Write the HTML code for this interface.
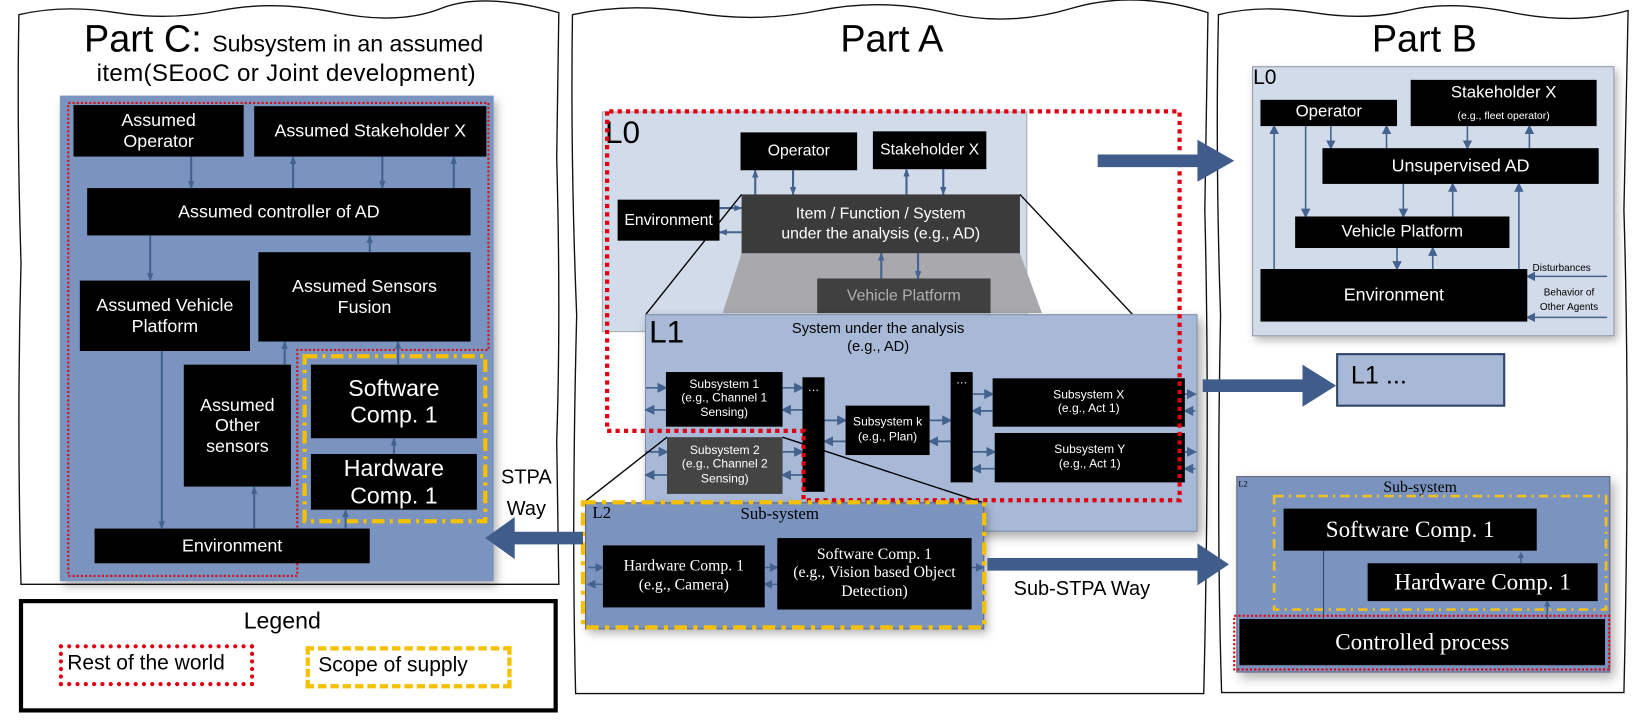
<!DOCTYPE html>
<html><head><meta charset="utf-8">
<style>
html,body{margin:0;padding:0;background:#fff;width:1647px;height:722px;overflow:hidden}
#c{position:absolute;left:0;top:0;width:1568px;height:687px;transform:scale(1.0504,1.0509);transform-origin:0 0;font-family:"Liberation Sans",sans-serif}
.a{position:absolute}
.b{position:absolute;background:#000;color:#fff;display:flex;align-items:center;justify-content:center;text-align:center;line-height:1.15;box-sizing:border-box}
.s{font-family:"Liberation Serif",serif}
.t{position:absolute;white-space:nowrap}
.n{font-family:"Liberation Sans Narrow","Liberation Sans",sans-serif}
</style></head><body><div id="c">
<svg class="a" style="left:0;top:0" width="1568" height="687">
<g fill="#fff" stroke="#111" stroke-width="1.3">
<path d="M18,14 Q60,4 110,12 T210,10 T320,12 T420,8 T532,12 L530,150 Q534,300 530,420 L532,556 L20,556 Q16,400 20,250 Q16,120 18,14Z"/>
<path d="M545,14 Q600,2 660,12 T780,10 T900,12 T1020,8 T1150,12 L1147,200 Q1152,400 1146,660 L548,660 Q544,500 549,300 Q543,150 545,14Z"/>
<path d="M1160,14 Q1200,4 1250,12 T1340,10 T1440,12 T1550,10 L1546,200 Q1552,400 1546,659 L1163,659 Q1158,500 1162,300 Q1157,150 1160,14Z"/>
</g>
</svg>
<!-- Part C -->
<div class="t n" style="left:80px;top:16px;font-size:36px">Part C: <span style="font-size:22px">Subsystem in an assumed</span></div>
<div class="t n" style="left:92px;top:56px;font-size:23px;letter-spacing:0.3px">item(SEooC or Joint development)</div>
<div class="a" style="left:57px;top:91px;width:413px;height:462px;background:#7a94bf;box-shadow:3px 5px 8px rgba(0,0,0,.3)"></div>
<svg class="a" style="left:0;top:0" width="1568" height="687">
<path d="M65,98 H465 V333 H283 V548 H65 Z" fill="none" stroke="#d0101a" stroke-width="2" stroke-dasharray="2 2"/>
<rect x="290" y="339" width="172" height="157" fill="none" stroke="#f5c000" stroke-width="4" stroke-dasharray="12 5 3 5"/>
</svg>
<div class="b" style="left:70px;top:100px;width:162px;height:49px;font-size:17px">Assumed<br>Operator</div>
<div class="b" style="left:242px;top:101px;width:221px;height:48px;font-size:17px">Assumed Stakeholder X</div>
<div class="b" style="left:83px;top:179px;width:365px;height:45px;font-size:17px">Assumed controller of AD</div>
<div class="b" style="left:76px;top:267px;width:162px;height:67px;font-size:17px">Assumed Vehicle<br>Platform</div>
<div class="b" style="left:246px;top:240px;width:202px;height:85px;font-size:17px">Assumed Sensors<br>Fusion</div>
<div class="b" style="left:175px;top:347px;width:102px;height:116px;font-size:17px">Assumed<br>Other<br>sensors</div>
<div class="b" style="left:296px;top:347px;width:158px;height:70px;font-size:22px">Software<br>Comp. 1</div>
<div class="b" style="left:296px;top:432px;width:158px;height:53px;font-size:22px">Hardware<br>Comp. 1</div>
<div class="b" style="left:90px;top:503px;width:262px;height:33px;font-size:17px">Environment</div>
<svg class="a" style="left:0;top:0" width="1568" height="687">
<defs><marker id="m" markerWidth="6" markerHeight="6" refX="5" refY="3" orient="auto" markerUnits="strokeWidth"><path d="M0,0 L6,3 L0,6Z" fill="#44628f"/></marker>
<marker id="m2" markerWidth="8" markerHeight="8" refX="7" refY="4" orient="auto" markerUnits="userSpaceOnUse"><path d="M0,1 L8,4 L0,7Z" fill="#44628f"/></marker></defs>
<g stroke="#44628f" stroke-width="2" fill="none" marker-end="url(#m2)">
<path d="M182,149 V179"/><path d="M279,179 V149"/><path d="M364,149 V179"/><path d="M432,179 V149"/>
<path d="M143,224 V267"/><path d="M352,240 V224"/><path d="M154,334 V503"/><path d="M271,347 V325"/>
<path d="M379,347 V325"/><path d="M375,432 V417"/><path d="M242,503 V463"/><path d="M329,503 V485"/>
</g>
</svg>
<!-- Legend -->
<div class="a" style="left:18px;top:570px;width:505px;height:100px;border:4px solid #000;background:#fff"></div>
<div class="t" style="left:232px;top:578px;font-size:22px">Legend</div>
<div class="a" style="left:56px;top:613px;width:186px;height:40px;border:4px dotted #e00010;box-sizing:border-box"></div>
<div class="t" style="left:64px;top:620px;font-size:20px">Rest of the world</div>
<div class="a" style="left:291px;top:615px;width:196px;height:40px;border:4px dashed #f5c000;box-sizing:border-box"></div>
<div class="t" style="left:303px;top:622px;font-size:20px">Scope of supply</div>
<div class="t" style="left:477px;top:440px;font-size:19px;line-height:30px;text-align:center">STPA<br>Way</div>
<!-- Part A -->
<div class="t n" style="left:800px;top:16px;font-size:36px">Part A</div>
<div class="a" style="left:573px;top:106px;width:403px;height:208px;background:#d1dbe9;border:1px solid #aab"></div>
<div class="t" style="left:576px;top:110px;font-size:30px">L0</div>
<svg class="a" style="left:0;top:0" width="1568" height="687">
<path d="M706,241 L971,241 L992,298 L688,298Z" fill="#a9a9ad"/>
<g stroke="#44628f" stroke-width="2" fill="none" marker-end="url(#m2)">
<path d="M719,185 V162"/><path d="M755,162 V185"/><path d="M863,185 V161"/><path d="M898,161 V185"/>
<path d="M685,198 H706"/><path d="M706,221 H685"/><path d="M839,265 V241"/><path d="M874,241 V265"/>
</g>
</svg>
<div class="b" style="left:705px;top:126px;width:111px;height:36px;font-size:15px">Operator</div>
<div class="b" style="left:831px;top:125px;width:108px;height:36px;font-size:15px">Stakeholder X</div>
<div class="b" style="left:588px;top:190px;width:97px;height:39px;font-size:15px">Environment</div>
<div class="b" style="left:706px;top:185px;width:265px;height:56px;font-size:15px;background:#3b3b3b;line-height:1.3">Item / Function / System<br>under the analysis (e.g., AD)</div>
<div class="b" style="left:778px;top:265px;width:165px;height:33px;font-size:15px;background:#404040;color:#b0b0b0">Vehicle Platform</div>
<svg class="a" style="left:0;top:0" width="1568" height="687">
<path d="M706,185 L615,299 M971,185 L1078,299" stroke="#000" stroke-width="1.3"/>
</svg>
<div class="a" style="left:614px;top:299px;width:524px;height:205px;background:#a7b9d6;border:1px solid #7f8fa8;box-shadow:4px 5px 10px rgba(0,0,0,.35)"></div>
<div class="t" style="left:618px;top:300px;font-size:30px">L1</div>
<div class="t" style="left:736px;top:304px;width:200px;text-align:center;font-size:14px;line-height:17px">System under the analysis<br>(e.g., AD)</div>
<svg class="a" style="left:0;top:0" width="1568" height="687">
<g stroke="#44628f" stroke-width="1.6" fill="none" marker-end="url(#m)">
<path d="M615,369 H634"/><path d="M634,390 H615"/><path d="M745,369 H764"/><path d="M764,390 H745"/>
<path d="M785,400 H805"/><path d="M805,420 H785"/><path d="M885,400 H905"/><path d="M905,420 H885"/>
<path d="M926,375 H945"/><path d="M945,391 H926"/><path d="M926,430 H947"/><path d="M947,446 H926"/>
<path d="M1128,375 H1138"/><path d="M1138,391 H1128"/><path d="M1128,430 H1138"/><path d="M1138,446 H1128"/>
<path d="M615,430 H635"/><path d="M635,452 H615"/><path d="M745,430 H764"/><path d="M764,452 H745"/>
</g>
</svg>
<div class="b" style="left:634px;top:354px;width:111px;height:52px;font-size:11.5px">Subsystem 1<br>(e.g., Channel 1<br>Sensing)</div>
<div class="b" style="left:764px;top:359px;width:21px;height:109px;font-size:11px;align-items:flex-start;padding-top:4px">…</div>
<div class="b" style="left:805px;top:386px;width:80px;height:47px;font-size:11.5px">Subsystem k<br>(e.g., Plan)</div>
<div class="b" style="left:905px;top:354px;width:21px;height:105px;font-size:11px;align-items:flex-start;padding-top:2px">…</div>
<div class="b" style="left:945px;top:360px;width:183px;height:46px;font-size:11.5px">Subsystem X<br>(e.g., Act 1)</div>
<div class="b" style="left:947px;top:412px;width:181px;height:47px;font-size:11.5px">Subsystem Y<br>(e.g., Act 1)</div>
<div class="b" style="left:635px;top:416px;width:110px;height:54px;font-size:11.5px;background:#444">Subsystem 2<br>(e.g., Channel 2<br>Sensing)</div>
<svg class="a" style="left:0;top:0" width="1568" height="687">
<path d="M578,106 V410 H765 V476 H1123 V106 H976" fill="none" stroke="#e00010" stroke-width="4" stroke-dasharray="4 4"/>
<path d="M976,106 H578" fill="none" stroke="#e00010" stroke-width="4" stroke-dasharray="4 4"/>
<path d="M635,416 L556,478 M745,416 L935,478" stroke="#000" stroke-width="1.3"/>
</svg>
<div class="a" style="left:557px;top:478px;width:378px;height:119px;background:#7b93bf;border:1px solid #667;box-shadow:3px 4px 8px rgba(0,0,0,.3)"></div>
<svg class="a" style="left:0;top:0" width="1568" height="687">
<rect x="555" y="478" width="382" height="119" fill="none" stroke="#f5c000" stroke-width="4" stroke-dasharray="12 6 4 6"/>
<g stroke="#44628f" stroke-width="1.4" fill="none" marker-end="url(#m)">
<path d="M560,540 H574"/><path d="M574,556 H560"/><path d="M728,540 H740"/><path d="M740,556 H728"/><path d="M925,540 H936"/>
</g>
</svg>
<div class="t s" style="left:564px;top:480px;font-size:16px">L2</div>
<div class="t s" style="left:705px;top:481px;font-size:16px">Sub-system</div>
<div class="b s" style="left:574px;top:519px;width:154px;height:59px;font-size:15px">Hardware Comp. 1<br>(e.g., Camera)</div>
<div class="b s" style="left:740px;top:512px;width:185px;height:68px;font-size:15px">Software Comp. 1<br>(e.g., Vision based Object<br>Detection)</div>
<div class="t" style="left:965px;top:550px;font-size:19px">Sub-STPA Way</div>
<!-- Part B -->
<div class="t n" style="left:1306px;top:16px;font-size:36px">Part B</div>
<div class="a" style="left:1192px;top:63px;width:343px;height:255px;background:#d1dbe9;border:1px solid #99a;box-shadow:3px 4px 8px rgba(0,0,0,.3)"></div>
<div class="t" style="left:1193px;top:63px;font-size:20px">L0</div>
<svg class="a" style="left:0;top:0" width="1568" height="687">
<g stroke="#44628f" stroke-width="1.5" fill="none" marker-end="url(#m)">
<path d="M1213,256 V120"/><path d="M1243,120 V206"/><path d="M1267,120 V141"/><path d="M1320,141 V120"/>
<path d="M1397,120 V141"/><path d="M1456,141 V120"/><path d="M1336,175 V206"/><path d="M1383,206 V175"/>
<path d="M1330,236 V256"/><path d="M1364,256 V236"/><path d="M1446,256 V175"/>
<path d="M1530,263 H1454"/><path d="M1530,302 H1454"/>
</g>
</svg>
<div class="b" style="left:1200px;top:95px;width:130px;height:25px;font-size:16px">Operator</div>
<div class="b" style="left:1343px;top:76px;width:177px;height:44px;font-size:16px;line-height:1.25;display:block;padding-top:3px;white-space:nowrap">Stakeholder X<br><span style="font-size:10px">(e.g., fleet operator)</span></div>
<div class="b" style="left:1259px;top:141px;width:263px;height:34px;font-size:17px">Unsupervised AD</div>
<div class="b" style="left:1233px;top:206px;width:204px;height:30px;font-size:16px">Vehicle Platform</div>
<div class="b" style="left:1200px;top:256px;width:254px;height:50px;font-size:17px">Environment</div>
<div class="t" style="left:1459px;top:250px;font-size:9.5px">Disturbances</div>
<div class="t" style="left:1466px;top:272px;font-size:9.5px;line-height:14px;text-align:center">Behavior of<br>Other Agents</div>
<div class="a" style="left:1272px;top:336px;width:161px;height:51px;background:#a7b9d6;border:2px solid #2f456b;box-sizing:border-box"></div>
<div class="t" style="left:1286px;top:344px;font-size:24px">L1 ...</div>
<div class="a" style="left:1177px;top:453px;width:354px;height:185px;background:#7b93bf;border:1px solid #667;box-shadow:4px 5px 10px rgba(0,0,0,.3)"></div>
<div class="t s" style="left:1179px;top:456px;font-size:8px">L2</div>
<div class="t s" style="left:1317px;top:456px;font-size:15px">Sub-system</div>
<svg class="a" style="left:0;top:0" width="1568" height="687">
<rect x="1213" y="472" width="316" height="108" fill="none" stroke="#f0c020" stroke-width="2.5" stroke-dasharray="9 5 2 5"/>
<g stroke="#2f456b" stroke-width="1" fill="none"><path d="M1260,524 V589"/><path d="M1448,536 V526" marker-end="url(#m)"/><path d="M1473,589 V572" marker-end="url(#m)"/></g>
</svg>
<div class="b s" style="left:1222px;top:484px;width:241px;height:40px;font-size:22px">Software Comp. 1</div>
<div class="b s" style="left:1302px;top:536px;width:219px;height:36px;font-size:22px">Hardware Comp. 1</div>
<div class="b s" style="left:1180px;top:589px;width:348px;height:44px;font-size:22px">Controlled process</div>
<svg class="a" style="left:0;top:0" width="1568" height="687">
<rect x="1175" y="586" width="357" height="51" fill="none" stroke="#e00010" stroke-width="2" stroke-dasharray="2 2"/>
<g fill="#3f5c8a">
<path d="M1045,147 H1140 V133 L1175,153 L1140,173 V159 H1045Z"/>
<path d="M1145,361 H1240 V347 L1272,367 L1240,387 V373 H1145Z"/>
<path d="M940,531 H1140 V517 L1170,537 L1140,557 V543 H940Z"/>
<path d="M555,506 H490 V492 L462,512 L490,532 V518 H555Z"/>
</g>
</svg>
</div></body></html>
